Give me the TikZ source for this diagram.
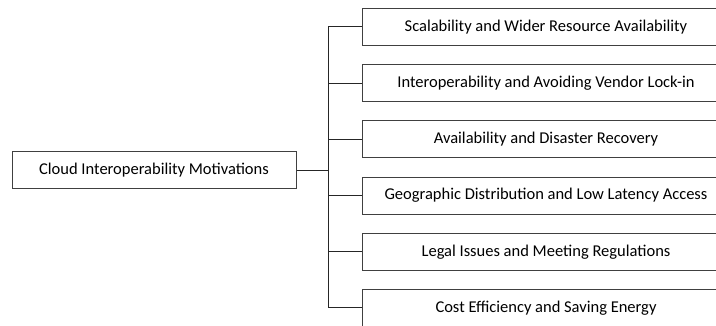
\documentclass[tikz,border=0pt]{standalone}
\usepackage{fontspec}
\setmainfont{Carlito}
\usetikzlibrary{positioning}

\begin{document}
\begin{tikzpicture}[x=1pt, y=-1pt,
        box/.style={rectangle, draw=black!75, line width=1pt, fill=white,
                    minimum height=37pt, inner sep=0pt,
                    font=\fontsize{16.5}{18}\selectfont},
        root/.style={box, minimum width=284pt},
        motive/.style={box, minimum width=368pt},
        link/.style={draw=black!85, line width=1pt},
        node distance=18.2pt]
      \useasboundingbox (0,0) rectangle (716,326);
      \clip (0,0) rectangle (716,326);
      \node[root] (cim) at (154,170.5) {Cloud Interoperability Motivations};
      \node[motive] (m1) at (546,27) {Scalability and Wider Resource Availability};
      \node[motive, below=of m1] (m2) {Interoperability and Avoiding Vendor Lock-in};
      \node[motive, below=of m2] (m3) {Availability and Disaster Recovery};
      \node[motive, below=of m3] (m4) {Geographic Distribution and Low Latency Access};
      \node[motive, below=of m4] (m5) {Legal Issues and Meeting Regulations};
      \node[motive, below=of m5] (m6) {Cost Efficiency and Saving Energy};
      \coordinate (split) at (328,170.5);
      \draw[link] (cim.east) -- (split);
      \foreach \i in {1,...,6}
        \draw[link] (m\i.west) -| (split);
    \end{tikzpicture}
\end{document}
